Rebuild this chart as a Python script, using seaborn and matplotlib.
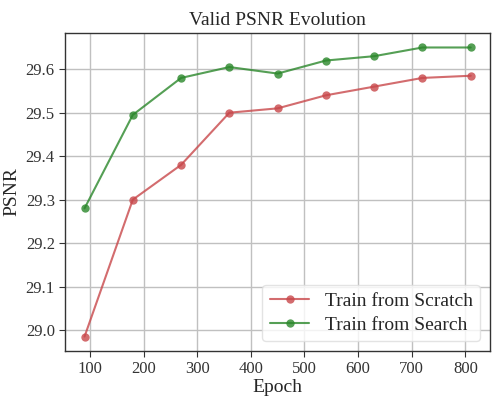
import matplotlib
matplotlib.use("Agg")
import matplotlib.pyplot as plt
import seaborn as sns
import pandas as pd

epochs = [90, 180, 270, 360, 450, 540, 630, 720, 810]
scratch_psnr = [28.985, 29.30, 29.38, 29.50, 29.51, 29.54, 29.56, 29.58, 29.585]
search_psnr = [29.28, 29.495, 29.58, 29.605, 29.59, 29.62, 29.63, 29.65, 29.65]
series_names = ["Train from Scratch", "Train from Search"]
series_colors = ["#c8474a", "#2a872a"]

df = pd.concat([
    pd.DataFrame({"epoch": epochs, "psnr": scratch_psnr, "run": series_names[0]}),
    pd.DataFrame({"epoch": epochs, "psnr": search_psnr, "run": series_names[1]}),
])

sns.set_style("whitegrid")
plt.rcParams["font.family"] = ["Liberation Serif", "DejaVu Serif"]

fig = plt.figure(figsize=(4.98, 3.98), dpi=100)
ax = fig.add_axes([0.131, 0.118, 0.853, 0.799])

sns.lineplot(data=df, x="epoch", y="psnr", hue="run", palette=series_colors,
             marker="o", markersize=6, markeredgewidth=0, linewidth=1.5,
             alpha=0.8, ax=ax)

ax.set_title("Valid PSNR Evolution", fontsize=14, pad=6)
ax.set_xlabel("Epoch", fontsize=14, labelpad=1)
ax.set_ylabel("PSNR", fontsize=14, labelpad=4)
ax.set_xticks([100, 200, 300, 400, 500, 600, 700, 800])
ax.set_yticks([29.0, 29.1, 29.2, 29.3, 29.4, 29.5, 29.6])
ax.tick_params(axis="both", labelsize=12, length=4, width=0.8, colors="#333333",
               left=True, bottom=True, direction="out")
ax.grid(True, color="#c0c0c0", linewidth=1)
for s in ax.spines.values():
    s.set_color("#333333")
    s.set_linewidth(1)

ax.legend(loc="lower right", fontsize=14, frameon=True, edgecolor="#dddddd",
          handlelength=2.0, borderpad=0.4, labelspacing=0.3)

fig.savefig("out.png", dpi=100)
